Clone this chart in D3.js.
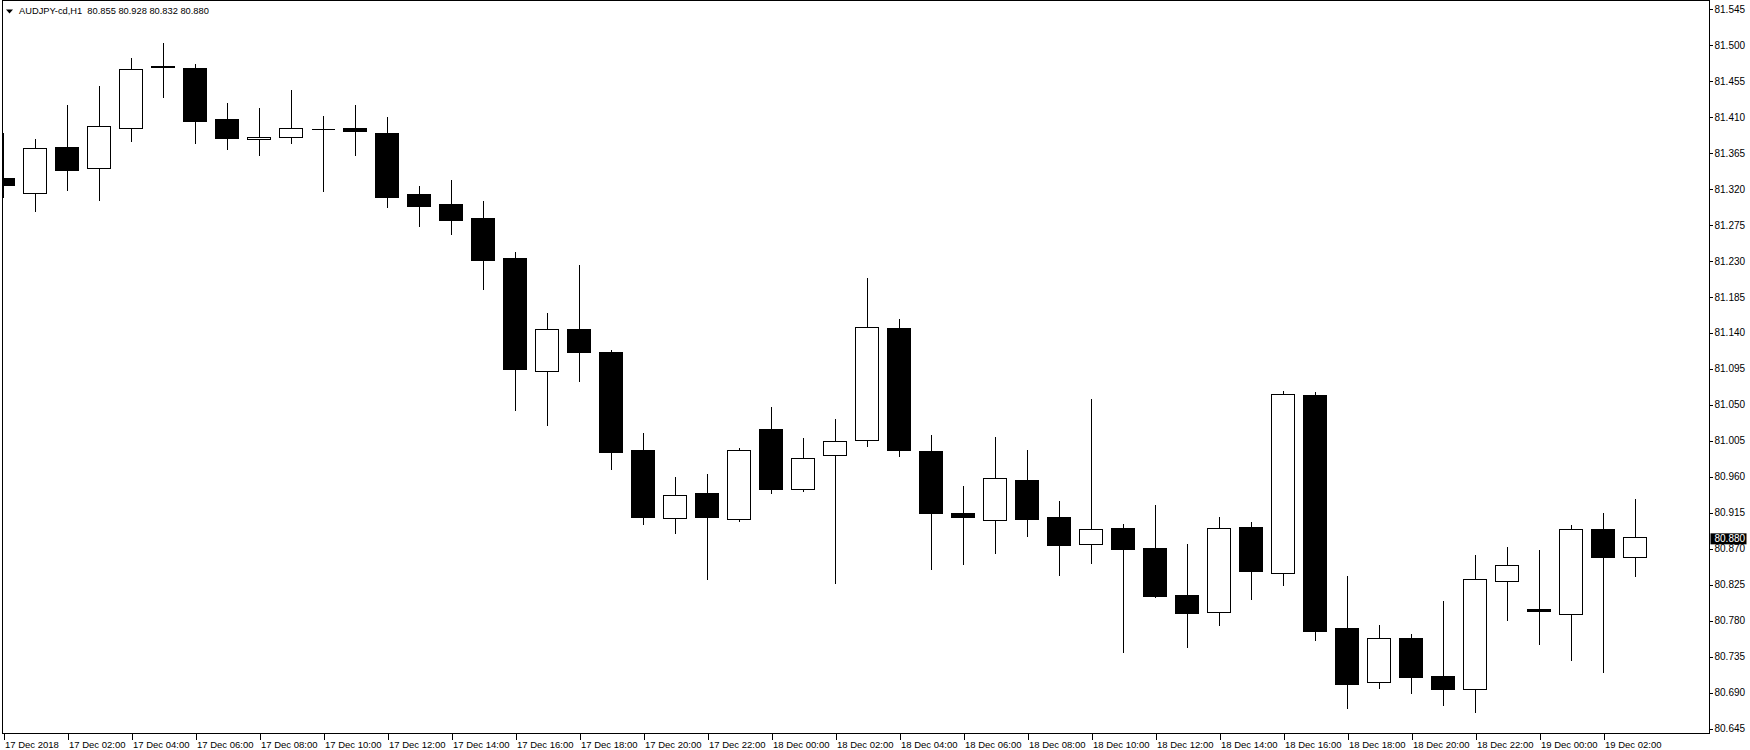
<!DOCTYPE html>
<html>
<head>
<meta charset="utf-8">
<script src="https://cdn.jsdelivr.net/npm/d3@7"></script>
<style>
  body { margin: 0; background: #fff; }
  svg { display: block; font-family: "Liberation Sans", Arial, sans-serif; }
</style>
</head>
<body>
<div id="chart"></div>
<script>
// AUDJPY-cd, H1 candles (17 Dec 2018 00:00 .. 19 Dec 03:00)
const openP  = [81.330,81.311,81.368,81.342,81.392,81.470,81.467,81.403,81.378,81.381,
                81.391,81.392,81.386,81.310,81.297,81.280,81.230,81.088,81.141,81.112,
                80.989,80.904,80.935,80.903,81.015,80.940,80.983,81.002,81.142,80.988,
                80.911,80.902,80.952,80.906,80.872,80.892,80.867,80.808,80.786,80.893,
                80.836,81.058,80.767,80.699,80.754,80.707,80.690,80.825,80.790,80.784,
                80.890,80.855];
const highP  = [81.386,81.378,81.421,81.445,81.480,81.498,81.472,81.423,81.417,81.440,
                81.407,81.421,81.406,81.320,81.327,81.301,81.237,81.161,81.221,81.114,
                81.011,80.956,80.959,80.992,81.043,81.004,81.028,81.204,81.153,81.008,
                80.944,81.006,80.989,80.926,81.053,80.897,80.921,80.872,80.906,80.899,
                81.063,81.062,80.832,80.770,80.759,80.800,80.858,80.868,80.864,80.896,
                80.910,80.928];
const lowP   = [81.306,81.288,81.314,81.302,81.376,81.431,81.373,81.366,81.358,81.373,
                81.313,81.358,81.293,81.270,81.260,81.191,81.039,81.020,81.076,80.966,
                80.897,80.886,80.828,80.901,80.936,80.938,80.823,80.994,80.982,80.841,
                80.847,80.860,80.882,80.833,80.848,80.737,80.805,80.743,80.770,80.803,
                80.820,80.751,80.667,80.691,80.685,80.670,80.662,80.777,80.747,80.726,
                80.711,80.832];
const closeP = [81.321,81.367,81.340,81.394,81.466,81.468,81.401,81.379,81.381,81.392,
                81.391,81.388,81.306,81.294,81.277,81.227,81.091,81.140,81.112,80.987,
                80.905,80.933,80.905,80.989,80.941,80.979,81.000,81.143,80.989,80.910,
                80.905,80.954,80.903,80.871,80.890,80.866,80.807,80.785,80.892,80.838,
                81.059,80.763,80.697,80.754,80.705,80.690,80.828,80.846,80.788,80.890,
                80.856,80.880];

const timeLabels = ["17 Dec 2018","17 Dec 02:00","17 Dec 04:00","17 Dec 06:00","17 Dec 08:00",
                    "17 Dec 10:00","17 Dec 12:00","17 Dec 14:00","17 Dec 16:00","17 Dec 18:00",
                    "17 Dec 20:00","17 Dec 22:00","18 Dec 00:00","18 Dec 02:00","18 Dec 04:00",
                    "18 Dec 06:00","18 Dec 08:00","18 Dec 10:00","18 Dec 12:00","18 Dec 14:00",
                    "18 Dec 16:00","18 Dec 18:00","18 Dec 20:00","18 Dec 22:00","19 Dec 00:00",
                    "19 Dec 02:00"];
const priceTicks = [81.545,81.500,81.455,81.410,81.365,81.320,81.275,81.230,81.185,81.140,
                    81.095,81.050,81.005,80.960,80.915,80.870,80.825,80.780,80.735,80.690,80.645];
const lastPrice = 80.880;
const title = "AUDJPY-cd,H1  80.855 80.928 80.832 80.880";

const W = 1750, H = 750;
const frame = {l: 2.5, t: 0.5, r: 1709.5, b: 733.5};
const n = openP.length;

const svg = d3.select('#chart').append('svg')
  .attr('width', W)
  .attr('height', H);

const x = d3.scaleLinear().domain([0, n - 1]).range([3.5, 3.5 + 32 * (n - 1)]);
const y = d3.scaleLinear().domain([80.645, 81.545]).range([725.2, 5.7]);

svg.append('clipPath').attr('id', 'plotclip')
  .append('rect')
  .attr('x', 3).attr('y', 1)
  .attr('width', frame.r - 3).attr('height', frame.b - 1);

////////////////////////////////////////////////////////////////////

const candles = d3.range(n).map(i => ({
  i: i, o: openP[i], h: highP[i], l: lowP[i], c: closeP[i]
}));

const plot = svg.append('g')
  .attr('clip-path', 'url(#plotclip)')
  .attr('shape-rendering', 'crispEdges');

const g = plot.selectAll('.candle')
  .data(candles)
  .enter().append('g')
  .attr('class', 'candle');

g.append('line')
  .attr('x1', d => Math.floor(x(d.i)) + 0.5)
  .attr('x2', d => Math.floor(x(d.i)) + 0.5)
  .attr('y1', d => Math.round(y(d.h)))
  .attr('y2', d => Math.round(y(d.l)) + 1)
  .attr('stroke', '#000')
  .attr('stroke-width', 1);

g.append('path')
  .attr('d', d => {
    const x0 = Math.floor(x(d.i)) - 11.5, x1 = x0 + 23;
    const y0 = Math.round(y(Math.max(d.o, d.c))) + 0.5;
    const y1 = Math.round(y(Math.min(d.o, d.c))) + 0.5;
    return `M${x0},${y0}H${x1}V${y1}H${x0}Z`;
  })
  .attr('fill', d => d.c >= d.o ? '#fff' : '#000')
  .attr('stroke', '#000')
  .attr('stroke-width', 1);

////////////////////////////////////////////////////////////////////

svg.append('rect')
  .attr('x', frame.l).attr('y', frame.t)
  .attr('width', frame.r - frame.l).attr('height', frame.b - frame.t)
  .attr('fill', 'none')
  .attr('stroke', '#000')
  .attr('shape-rendering', 'crispEdges');

// price axis (labels sit a few px below the price level, like the terminal)
const axisY = d3.axisRight(y)
  .tickValues(priceTicks)
  .tickFormat(d3.format('.3f'))
  .tickSize(3)
  .tickPadding(2);
const axisYNode = svg.append('g')
  .attr('class', 'axis axis-y')
  .attr('transform', `translate(${frame.r},3.3)`)
  .call(axisY);
axisYNode.select('.domain').remove();
axisYNode.selectAll('text')
  .attr('font-family', '"Liberation Sans", Arial, sans-serif')
  .attr('font-size', '10px')
  .attr('fill', '#000');
axisYNode.selectAll('line').attr('stroke', '#000').attr('shape-rendering', 'crispEdges');

// current price label
const ly = y(lastPrice) + 1;
svg.append('rect')
  .attr('x', frame.r + 1).attr('y', ly - 5)
  .attr('width', 36).attr('height', 11)
  .attr('fill', '#000');
svg.append('text')
  .attr('x', frame.r + 5).attr('y', ly)
  .attr('dy', '0.36em')
  .attr('font-size', '10px')
  .attr('fill', '#fff')
  .text(d3.format('.3f')(lastPrice));

// time axis
const tickIdx = timeLabels.map((t, k) => k * 2);
const axisX = d3.axisBottom(x)
  .tickValues(tickIdx)
  .tickFormat((d, k) => timeLabels[k])
  .tickSize(6)
  .tickPadding(2);
const axisXNode = svg.append('g')
  .attr('class', 'axis axis-x')
  .attr('transform', `translate(0,${frame.b})`)
  .call(axisX);
axisXNode.select('.domain').remove();
axisXNode.selectAll('line').attr('stroke', '#000').attr('shape-rendering', 'crispEdges');
axisXNode.selectAll('text')
  .attr('text-anchor', 'start')
  .attr('x', 1)
  .attr('y', 7.5)
  .attr('font-family', '"Liberation Sans", Arial, sans-serif')
  .attr('font-size', '9.5px')
  .attr('fill', '#000');

// title
svg.append('path')
  .attr('d', 'M6,9.5L13,9.5L9.5,13.5Z')
  .attr('fill', '#000');
svg.append('text')
  .attr('x', 19).attr('y', 14)
  .attr('font-size', '9.3px')
  .attr('fill', '#000')
  .style('white-space', 'pre')
  .text(title);
</script>
</body>
</html>
